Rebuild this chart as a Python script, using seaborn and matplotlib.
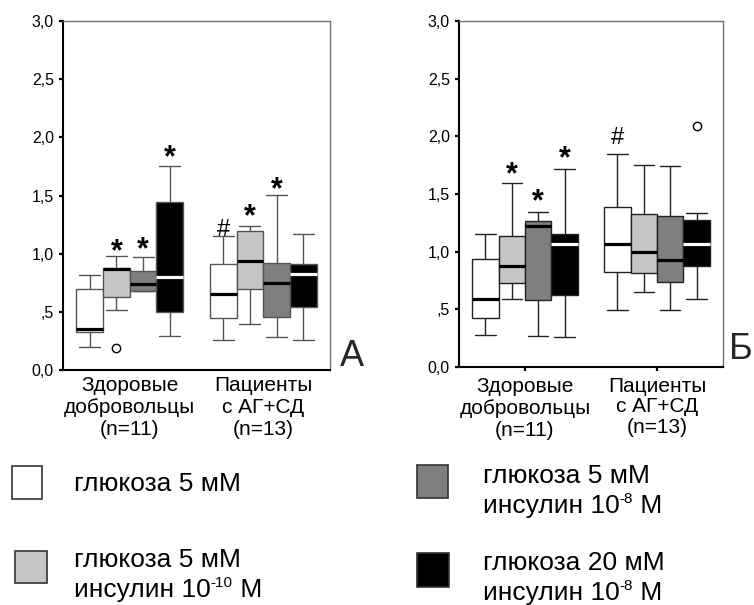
import numpy as np
import pandas as pd
import matplotlib
matplotlib.use("Agg")
import matplotlib.pyplot as plt
import seaborn as sns
from matplotlib.patches import Rectangle

# ---------------- data ----------------
groups = ["Здоровые\nдобровольцы\n(n=11)", "Пациенты\nс АГ+СД\n(n=13)"]
conditions = ["глюкоза 5 мМ", "глюкоза 5 мМ + инсулин 10^-10 М",
              "глюкоза 5 мМ + инсулин 10^-8 М", "глюкоза 20 мМ + инсулин 10^-8 М"]
colors = ["#ffffff", "#c6c6c6", "#7f7f7f", "#000000"]
legend_line1 = ["глюкоза 5 мМ", "глюкоза 5 мМ", "глюкоза 5 мМ", "глюкоза 20 мМ"]
legend_exponent = ["", "-10", "-8", "-8"]
ytick_values = [0.0, 0.5, 1.0, 1.5, 2.0, 2.5, 3.0]
ytick_labels = ["0,0", ",5", "1,0", "1,5", "2,0", "2,5", "3,0"]

# five-number summaries, order: group1 (4 conditions), group2 (4 conditions)
a_whislo = [0.20, 0.512, 0.679, 0.295, 0.26, 0.392, 0.281, 0.26]
a_q1     = [0.323, 0.627, 0.679, 0.501, 0.444, 0.693, 0.455, 0.541]
a_med    = [0.349, 0.870, 0.741, 0.799, 0.653, 0.933, 0.750, 0.822]
a_q3     = [0.693, 0.873, 0.850, 1.443, 0.910, 1.197, 0.919, 0.910]
a_whishi = [0.816, 0.982, 0.973, 1.755, 1.148, 1.242, 1.506, 1.171]
a_fliers = [[], [0.186], [], [], [], [], [], []]
a_marks  = ["", "*", "*", "*", "#", "*", "*", ""]
a_mark_y = [0, 1.074, 1.094, 1.881, 1.222, 1.374, 1.609, 0]

b_whislo = [0.280, 0.586, 0.271, 0.262, 0.490, 0.652, 0.490, 0.586]
b_q1     = [0.427, 0.730, 0.583, 0.620, 0.825, 0.819, 0.738, 0.880]
b_med    = [0.591, 0.880, 1.226, 1.070, 1.070, 0.995, 0.926, 1.064]
b_q3     = [0.940, 1.139, 1.263, 1.157, 1.390, 1.330, 1.309, 1.278]
b_whishi = [1.157, 1.598, 1.341, 1.719, 1.849, 1.748, 1.739, 1.333]
b_fliers = [[], [], [], [], [], [], [], [2.091]]
b_marks  = ["", "*", "*", "*", "#", "", "", ""]
b_mark_y = [0, 1.722, 1.491, 1.866, 2.01, 0, 0, 0]


def build_frame(lo, q1, med, q3, hi, fliers):
    rows = []
    for k in range(len(lo)):
        low_out = [f for f in fliers[k] if f < q1[k]]
        high_out = [f for f in fliers[k] if f > q3[k]]
        first = low_out[0] if low_out else lo[k]
        last = high_out[0] if high_out else hi[k]
        # 9 values whose linear percentiles reproduce the read summary
        vals = [first, lo[k], q1[k], q1[k], med[k], q3[k], q3[k], hi[k], last]
        for v in vals:
            rows.append({"group": groups[k // 4], "cond": conditions[k % 4], "value": v})
    return pd.DataFrame(rows)


sns.set_theme(style="white")
plt.rcParams["font.family"] = ["Liberation Sans", "DejaVu Sans"]

W, H = 754, 605
fig = plt.figure(figsize=(W / 100, H / 100), dpi=100)
fig.patch.set_facecolor("white")

axA = fig.add_axes([63 / W, 1 - 370 / H, 267 / W, 349 / H])
axB = fig.add_axes([459 / W, 1 - 367 / H, 264 / W, 346 / H])

panels = [
    (axA, build_frame(a_whislo, a_q1, a_med, a_q3, a_whishi, a_fliers), a_marks, a_mark_y, "#555555", False),
    (axB, build_frame(b_whislo, b_q1, b_med, b_q3, b_whishi, b_fliers), b_marks, b_mark_y, "#222222", True),
]

box_width = 0.8
for ax, df, marks, mark_y, lcol, xticks in panels:
    sns.boxplot(data=df, x="group", y="value", hue="cond", order=groups,
                hue_order=conditions, palette=colors, saturation=1,
                width=box_width, gap=0, whis=1.5, linecolor=lcol, linewidth=1,
                medianprops=dict(color="black", linewidth=2.3, solid_capstyle="butt"),
                flierprops=dict(marker="o", markerfacecolor="white",
                                markeredgecolor="black", markersize=6, markeredgewidth=1),
                legend=False, ax=ax)
    for i, cont in enumerate(ax.containers):
        try:
            if i == 3:
                for m in cont.medians:
                    m.set_color("white")
            for c in cont.caps:
                xd = np.asarray(c.get_xdata(), dtype=float)
                mid = xd.mean()
                half = box_width / 4 * 0.78 / 2
                c.set_xdata([mid - half, mid + half])
        except AttributeError:
            pass
    ax.set_ylim(0, 3.0)
    ax.set_xlim(-0.5, 1.5)
    ax.set_yticks(ytick_values)
    ax.set_yticklabels(ytick_labels)
    ax.set_xlabel("")
    ax.set_ylabel("")
    ax.tick_params(axis="y", direction="out", length=3, width=1.6, pad=3.5,
                   labelsize=11.5, colors="black", left=True)
    ax.tick_params(axis="x", direction="out", length=3 if xticks else 0, width=1.6,
                   pad=4, labelsize=15, colors="black", bottom=True)
    if xticks:
        ax.get_xticklabels()[1].set_linespacing(1.1)
    for s in ["left", "bottom"]:
        ax.spines[s].set_color("black")
        ax.spines[s].set_linewidth(1.5)
    for s in ["top", "right"]:
        ax.spines[s].set_color("#707070")
        ax.spines[s].set_linewidth(1.0)
    for k, (mk, yv) in enumerate(zip(marks, mark_y)):
        if not mk:
            continue
        xpos = (k // 4) + (k % 4 - 1.5) * box_width / 4
        if mk == "*":
            ax.annotate(mk, xy=(xpos, yv), xytext=(0, -11), textcoords="offset points",
                        ha="center", va="baseline", fontsize=22, fontweight="bold", color="black")
        else:
            ax.annotate(mk, xy=(xpos, yv), xytext=(0, -6), textcoords="offset points",
                        ha="center", va="baseline", fontsize=17, color="black")

# panel letters
fig.text(340 / W, 1 - 366 / H, "А", fontsize=26, ha="left", va="baseline")
fig.text(729 / W, 1 - 359 / H, "Б", fontsize=26, ha="left", va="baseline")

# legend (manual)
renderer = fig.canvas.get_renderer()
LEG_FS = 19


def draw_pieces(x_px, base_px, pieces):
    x = x_px
    for txt, size, rise in pieces:
        t = fig.text(x / W, 1 - (base_px - rise) / H, txt, fontsize=size,
                     ha="left", va="baseline", color="black")
        x += t.get_window_extent(renderer).width


leg_boxes = [(12, 466, 30, 33), (15, 551, 32, 32), (417, 465, 31, 33), (417, 553, 32, 34)]
leg_text_pos = [(74, 491, 0), (74, 567, 597), (483, 483, 513), (483, 570, 600)]
for (x, y, w, h), (tx, b1, b2), col, l1, ex in zip(leg_boxes, leg_text_pos, colors,
                                                    legend_line1, legend_exponent):
    fig.add_artist(Rectangle((x / W, 1 - (y + h) / H), w / W, h / H,
                             transform=fig.transFigure, facecolor=col,
                             edgecolor="#333333", linewidth=1.2))
    draw_pieces(tx, b1, [(l1, LEG_FS, 0)])
    if ex:
        draw_pieces(tx, b2, [("инсулин 10", LEG_FS, 0), (ex, 11, 10), (" М", LEG_FS, 0)])

fig.savefig("out.png", dpi=100, facecolor="white")
